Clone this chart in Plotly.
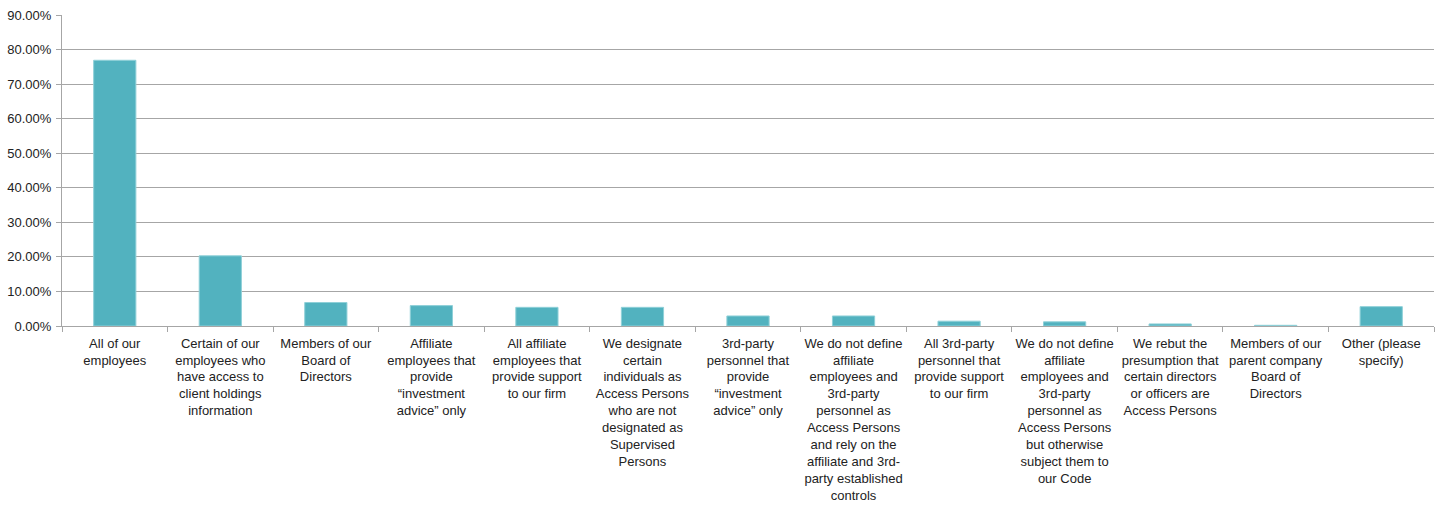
import plotly.graph_objects as go

# Response categories (multi-line axis labels)
categories = [
    "All of our<br>employees",
    "Certain of our<br>employees who<br>have access to<br>client holdings<br>information",
    "Members of our<br>Board of<br>Directors",
    "Affiliate<br>employees that<br>provide<br>“investment<br>advice” only",
    "All affiliate<br>employees that<br>provide support<br>to our firm",
    "We designate<br>certain<br>individuals as<br>Access Persons<br>who are not<br>designated as<br>Supervised<br>Persons",
    "3rd-party<br>personnel that<br>provide<br>“investment<br>advice” only",
    "We do not define<br>affiliate<br>employees and<br>3rd-party<br>personnel as<br>Access Persons<br>and rely on the<br>affiliate and 3rd-<br>party established<br>controls",
    "All 3rd-party<br>personnel that<br>provide support<br>to our firm",
    "We do not define<br>affiliate<br>employees and<br>3rd-party<br>personnel as<br>Access Persons<br>but otherwise<br>subject them to<br>our Code",
    "We rebut the<br>presumption that<br>certain directors<br>or officers are<br>Access Persons",
    "Members of our<br>parent company<br>Board of<br>Directors",
    "Other (please<br>specify)",
]

# Share of respondents (fraction)
shares = [0.769, 0.203, 0.068, 0.059, 0.054, 0.054, 0.029, 0.029, 0.014, 0.012, 0.006, 0.002, 0.056]

y_ticks = [0.0, 0.1, 0.2, 0.3, 0.4, 0.5, 0.6, 0.7, 0.8, 0.9]

fig = go.Figure(
    go.Bar(
        x=categories,
        y=shares,
        marker=dict(color="#52B2BF", line=dict(color="#8fd0d8", width=1)),
        width=0.4,
    )
)

fig.update_layout(
    width=1440,
    height=510,
    margin=dict(l=62, r=6, t=15, b=184),
    plot_bgcolor="white",
    paper_bgcolor="white",
    showlegend=False,
    font=dict(family="Liberation Sans, Arial, sans-serif", size=13, color="#222222"),
)

fig.update_yaxes(
    range=[0, 0.9],
    tickvals=y_ticks,
    tickformat=".2%",
    showgrid=True,
    gridcolor="#a6a6a6",
    gridwidth=1,
    showline=True,
    linecolor="#a6a6a6",
    linewidth=1,
    ticks="outside",
    ticklen=5,
    tickcolor="#a6a6a6",
    tickfont=dict(size=13, color="#222222"),
    zeroline=False,
    ticklabelstandoff=2,
)

fig.update_xaxes(
    showline=True,
    linecolor="#a6a6a6",
    linewidth=1,
    ticks="outside",
    ticklen=5,
    tickcolor="#a6a6a6",
    tickson="boundaries",
    tickangle=0,
    tickfont=dict(size=13, color="#222222"),
    ticklabelstandoff=5,
    range=[-0.5, 12.5],
)

fig.write_html("out.html")
